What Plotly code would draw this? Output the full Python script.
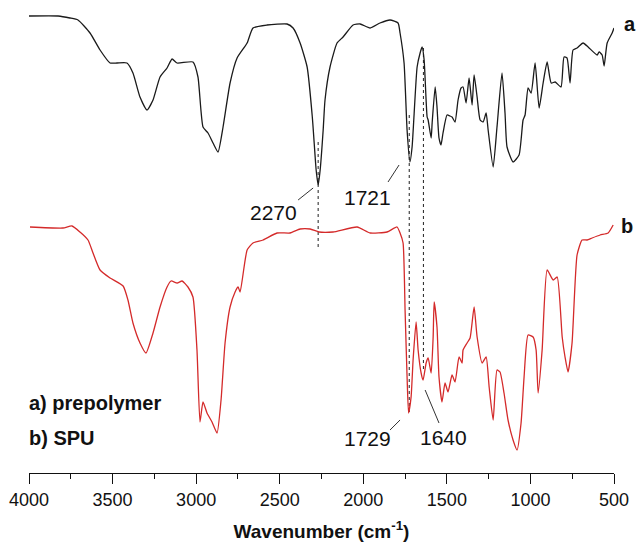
import plotly.graph_objects as go

# ---- Data: FTIR spectra (transmittance, arbitrary units) ----
wn_a = [4000, 3826, 3755, 3707, 3635, 3575, 3515, 3473, 3414, 3378, 3336, 3294, 3258, 3216,
        3174, 3144, 3114, 3019, 2989, 2959, 2929, 2899, 2869, 2839, 2797, 2755, 2695, 2660,
        2576, 2456, 2420, 2378, 2336, 2305, 2282, 2270, 2258, 2240, 2229, 2199, 2157, 2121,
        2061, 2019, 1959, 1900, 1840, 1792, 1780, 1756, 1738, 1721, 1708, 1678, 1660, 1648,
        1636, 1618, 1612, 1594, 1588, 1570, 1559, 1547, 1535, 1523, 1499, 1481, 1469, 1451,
        1433, 1415, 1403, 1385, 1367, 1349, 1337, 1319, 1301, 1283, 1265, 1253, 1223, 1200,
        1170, 1152, 1140, 1104, 1068, 1044, 1032, 1014, 996, 972, 948, 924, 900, 876, 852,
        817, 799, 781, 763, 745, 721, 685, 655, 601, 589, 571, 559, 541, 511, 500]
t_a = [457, 457, 455, 453, 440, 423, 410, 410, 410, 400, 376, 363, 373, 396,
       405, 414, 410, 411, 396, 346, 340, 330, 321, 346, 390, 415, 430, 445,
       448, 449, 445, 430, 406, 356, 303, 288, 303, 343, 373, 406, 430, 436,
       448, 449, 445, 450, 453, 450, 440, 410, 343, 311, 326, 406, 420, 426,
       413, 356, 353, 335, 350, 386, 366, 335, 328, 340, 358, 357, 356, 351,
       373, 385, 386, 370, 395, 368, 398, 376, 353, 351, 360, 343, 306, 346,
       400, 360, 326, 311, 318, 353, 358, 385, 380, 410, 365, 390, 411, 390, 391,
       386, 416, 415, 390, 423, 425, 430, 426, 418, 421, 418, 407, 430, 440, 445]

wn_b = [3994, 3797, 3743, 3695, 3647, 3617, 3575, 3515, 3437, 3408, 3378, 3336, 3300, 3258,
        3216, 3174, 3150, 3114, 3084, 3049, 3019, 2995, 2977, 2959, 2935, 2905, 2875, 2851,
        2827, 2797, 2767, 2749, 2737, 2695, 2660, 2600, 2516, 2438, 2378, 2318, 2265, 2181,
        2037, 1959, 1858, 1798, 1780, 1762, 1750, 1738, 1729, 1714, 1702, 1684, 1672, 1654,
        1642, 1624, 1612, 1594, 1582, 1576, 1559, 1547, 1529, 1511, 1493, 1469, 1451, 1427,
        1409, 1403, 1379, 1361, 1337, 1319, 1289, 1265, 1247, 1223, 1200, 1182, 1158, 1134,
        1104, 1080, 1056, 1038, 1014, 984, 966, 954, 930, 900, 864, 840, 810, 793, 775,
        751, 721, 691, 661, 631, 583, 535, 505]
t_b = [246, 245, 247, 241, 233, 220, 203, 195, 187, 173, 150, 130, 120, 140,
       166, 186, 192, 190, 192, 186, 176, 123, 51, 71, 60, 51, 40, 73,
       130, 166, 181, 186, 181, 223, 230, 233, 240, 240, 244, 244, 241, 241,
       246, 240, 241, 246, 240, 230, 163, 96, 60, 76, 113, 151, 123, 100,
       93, 110, 115, 100, 136, 171, 146, 96, 71, 90, 81, 98, 91, 116,
       110, 123, 130, 135, 166, 136, 110, 116, 86, 53, 103, 101, 80, 53,
       33, 23, 50, 96, 138, 136, 123, 80, 123, 203, 193, 196, 136, 116, 101,
       130, 218, 233, 233, 235, 238, 240, 248]

x_ticks = [4000, 3500, 3000, 2500, 2000, 1500, 1000, 500]

# dotted guide lines linking the marked bands
guide_wn = [2270, 1725, 1640]
guide_top = [331, 358, 425]
guide_bottom = [226, 58, 103]

peak_labels = ["2270", "1721", "1729", "1640"]

FONT = "Liberation Sans, Arial, sans-serif"

fig = go.Figure()

for wn, top, bot in zip(guide_wn, guide_top, guide_bottom):
    fig.add_trace(go.Scatter(x=[wn, wn], y=[top, bot], mode="lines",
                             line=dict(color="#333333", width=1.1, dash="dot"),
                             hoverinfo="skip", showlegend=False))

fig.add_trace(go.Scatter(x=wn_a, y=t_a, mode="lines", name="a) prepolymer",
                         line=dict(color="#1a1a1a", width=1.3, shape="spline", smoothing=0.5),
                         showlegend=False))
fig.add_trace(go.Scatter(x=wn_b, y=t_b, mode="lines", name="b) SPU",
                         line=dict(color="#d42a2a", width=1.3, shape="spline", smoothing=0.5),
                         showlegend=False))

# leader lines
leaders = [((2390, 273), (2300, 285)), ((1852, 291), (1786, 308)),
           ((1840, 43), (1780, 53)), ((1630, 83), (1547, 50))]
for (x0, y0), (x1, y1) in leaders:
    fig.add_shape(type="line", x0=x0, y0=y0, x1=x1, y1=y1, xref="x", yref="y",
                  line=dict(color="#333333", width=1))

label_pos = [(2540, 261), (1977, 276), (1977, 35), (1523, 36)]
for txt, (x, y) in zip(peak_labels, label_pos):
    fig.add_annotation(x=x, y=y, xref="x", yref="y", text=txt, showarrow=False,
                       xanchor="center", yanchor="middle",
                       font=dict(family=FONT, size=21, color="#111111"))

fig.add_annotation(x=1.027, y=0.949, xref="paper", yref="paper", text="<b>a</b>",
                   xanchor="center", yanchor="middle", showarrow=False,
                   font=dict(family=FONT, size=20, color="#111111"))
fig.add_annotation(x=1.022, y=0.522, xref="paper", yref="paper", text="<b>b</b>",
                   xanchor="center", yanchor="middle", showarrow=False,
                   font=dict(family=FONT, size=20, color="#111111"))
fig.add_annotation(x=-0.003, y=0.148, xref="paper", yref="paper", text="<b>a) prepolymer</b>",
                   xanchor="left", yanchor="middle", showarrow=False,
                   font=dict(family=FONT, size=20, color="#111111"))
fig.add_annotation(x=-0.003, y=0.074, xref="paper", yref="paper", text="<b>b) SPU</b>",
                   xanchor="left", yanchor="middle", showarrow=False,
                   font=dict(family=FONT, size=20, color="#111111"))

fig.update_layout(
    width=637, height=543,
    margin=dict(l=29, r=23, t=0, b=70),
    plot_bgcolor="white", paper_bgcolor="white",
    font=dict(family=FONT, color="#111111"),
    xaxis=dict(range=[4000, 500], tickvals=x_ticks, ticks="outside", ticklen=10,
               tickwidth=1.2, tickcolor="#111111", showline=True, linecolor="#111111",
               linewidth=1.2, showgrid=False, zeroline=False, automargin=False,
               tickfont=dict(size=18),
               minor=dict(dtick=250, ticks="outside", ticklen=5, tickcolor="#111111", tickwidth=1.2),
               title=dict(text="<b>Wavenumber (cm<sup>-1</sup>)</b>", font=dict(size=19), standoff=15)),
    yaxis=dict(range=[0, 473], visible=False, automargin=False),
)

fig.write_html("out.html", config={"displayModeBar": False},
               post_script="document.body.style.margin='0px';document.body.style.overflow='hidden';")
